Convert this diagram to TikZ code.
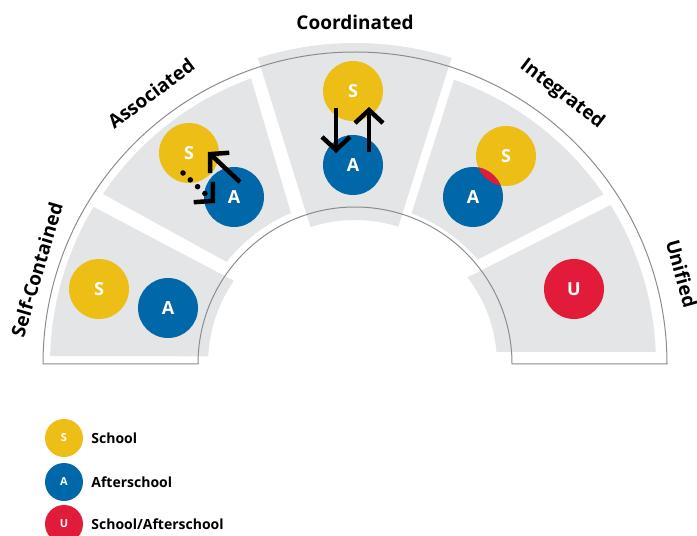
\documentclass[tikz,border=0pt]{standalone}
\usepackage{fontspec}
\setmainfont{Open Sans}
\usetikzlibrary{arrows.meta,positioning,calc}
\definecolor{schoolyellow}{RGB}{237,190,22}
\definecolor{afterblue}{RGB}{0,104,168}
\definecolor{unifiedred}{RGB}{227,27,58}
\definecolor{panelgray}{RGB}{228,229,231}
\definecolor{rimgray}{RGB}{140,140,140}

\begin{document}
\begin{tikzpicture}[x=1pt,y=1pt,
  panel/.style={fill=panelgray},
  rim/.style={draw=rimgray,line width=1pt},
  disc/.style={circle,inner sep=0pt,minimum size=60pt,text=white,font=\fontsize{18}{18}\selectfont\bfseries},
  sdisc/.style={disc,fill=schoolyellow},
  adisc/.style={disc,fill=afterblue},
  udisc/.style={disc,fill=unifiedred},
  legdot/.style={circle,inner sep=0pt,minimum size=38pt,text=white,font=\fontsize{11}{11}\selectfont\bfseries},
  legtext/.style={font=\fontsize{14}{14}\selectfont\bfseries,inner sep=0pt},
  stage/.style={font=\fontsize{19}{19}\selectfont\bfseries,inner sep=0pt},
  flow/.style={line width=4.5pt,-{Straight Barb[length=13pt,width=28pt]}},
  dotflow/.style={line width=5.5pt,line cap=round,dash pattern=on 0pt off 10pt,
    -{Straight Barb[length=13pt,width=28pt,line width=4.5pt]}}
]
\useasboundingbox (0,0) rectangle (697,536);

%Shape: panels of the arch
\begin{scope}[shift={(355,172)}]
\fill[panel] (149:305) arc[start angle=149,end angle=178.5,radius=305] -- (177:147) arc[start angle=177,end angle=145.5,radius=147] -- cycle;
\fill[panel] (110:304) arc[start angle=110,end angle=146,radius=304] -- (141.5:164) arc[start angle=141.5,end angle=113,radius=164] -- cycle;
\fill[panel] (72.5:321) arc[start angle=72.5,end angle=107.6,radius=321] -- (108:144) arc[start angle=108,end angle=72.5,radius=144] -- cycle;
\fill[panel] (34.3:301) arc[start angle=34.3,end angle=70.8,radius=301] -- (69.4:161) arc[start angle=69.4,end angle=40.4,radius=161] -- cycle;
\fill[panel] (2.3:301) arc[start angle=2.3,end angle=31.9,radius=301] -- (37.6:142) arc[start angle=37.6,end angle=4.9,radius=142] -- cycle;

%Shape: arch outline
\draw[rim] (-312,0) arc[start angle=180,end angle=0,radius=312] -- (157,0) arc[start angle=0,end angle=180,radius=157] -- cycle;

% Text Node
\node[stage,rotate=73.5] (selfc) at (163.5:332) {Self-Contained};
\node[stage,rotate=37] (assoc) at (127:339) {Associated};
\node[stage] (coord) at (90:342) {Coordinated};
\node[stage,rotate=-37.5] (integ) at (52.5:340) {Integrated};
\node[stage,rotate=-74.5] (unif) at (15.5:339) {Unified};
\end{scope}

% Self-Contained
\node[sdisc] (s1) at (99,247) {S};
\node[adisc] (a1) at (168,228) {A};
% Associated
\node[sdisc] (s2) at (189,383) {S};
\node[adisc] (a2) at (234,339) {A};
% Coordinated
\node[sdisc] (s3) at (353,445) {S};
\node[adisc] (a3) at (353,371) {A};
% Integrated
\node[sdisc] (s4) at (506,380) {S};
\node[adisc] (a4) at (473,339) {A};
\begin{scope}
\clip (a4.center) circle[radius=30];
\fill[unifiedred] (s4.center) circle[radius=30];
\end{scope}
% Unified
\node[udisc] (u5) at (574,247) {U};

%Straight Lines: arrows
\draw[flow] ($(a2.center)+(6,15)$) -- ($(s2.center)+(19,1)$);
\draw[dotflow] ($(s2.center)+(-6,-20)$) -- ($(a2.center)+(-19,-6)$);
\draw[flow] ($(s3.center)+(-17,-17)$) -- ($(a3.center)+(-17,12)$);
\draw[flow] ($(a3.center)+(16,13)$) -- ($(s3.center)+(16,-16)$);

% legend
\node[legdot,fill=schoolyellow] (ls) at (64,98) {S};
\node[legtext,right=8pt of ls] (lstext) {School};
\node[legdot,fill=afterblue] (la) at (64,54) {A};
\node[legtext,right=8pt of la] (latext) {Afterschool};
\node[legdot,fill=unifiedred] (lu) at (64,12) {U};
\node[legtext,right=8pt of lu] (lutext) {School/Afterschool};
\end{tikzpicture}
\end{document}
